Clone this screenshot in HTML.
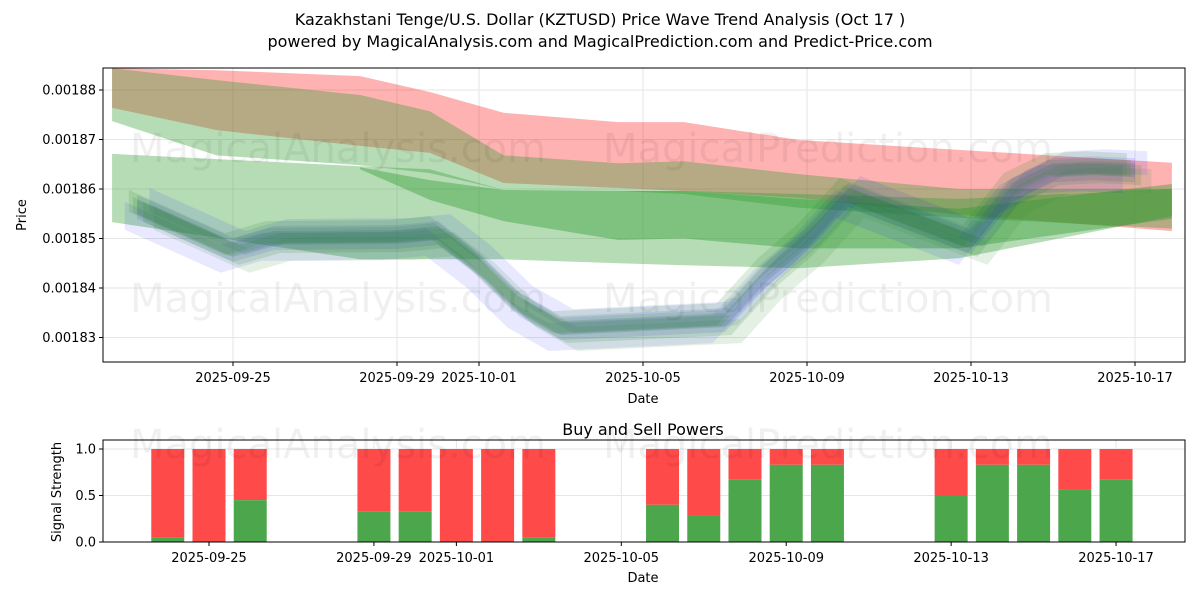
<!DOCTYPE html>
<html><head><meta charset="utf-8"><style>
body{margin:0;background:#fff;font-family:"Liberation Sans","DejaVu Sans",sans-serif;}
svg text{font-family:"DejaVu Sans","Liberation Sans",sans-serif;}
</style></head><body>
<svg id="c" width="1200" height="600" viewBox="0 0 1200 600" xmlns="http://www.w3.org/2000/svg">
<defs><clipPath id="tc"><rect x="103" y="68" width="1082" height="294"/></clipPath></defs>
<text x="600" y="25" text-anchor="middle" font-size="16">Kazakhstani Tenge/U.S. Dollar (KZTUSD) Price Wave Trend Analysis (Oct 17 )</text>
<text x="600" y="47" text-anchor="middle" font-size="16">powered by MagicalAnalysis.com and MagicalPrediction.com and Predict-Price.com</text>
<g id="topg"></g><g id="botg"></g>
</svg>
<script>
// ---- data ----
const dayLabels=["2025-09-25","2025-09-29","2025-10-01","2025-10-05","2025-10-09","2025-10-13","2025-10-17"];
const dayTicks=[3,7,9,13,17,21,25];
const priceTicks=[0.00183,0.00184,0.00185,0.00186,0.00187,0.00188];
const redDays=[0.05,2.6,6.1,7.8,9.6,12.4,14,16.8,20.7,25.9];
const redUpper=[0.0018844,0.0018840,0.0018828,0.0018796,0.0018754,0.0018735,0.0018735,0.0018699,0.0018679,0.0018653];
const redLower=[0.0018764,0.0018719,0.0018687,0.0018673,0.0018612,0.0018602,0.0018596,0.0018582,0.0018548,0.0018515];
const gaUpper=[0.0018844,0.0018820,0.0018790,0.0018757,0.0018668,0.0018652,0.0018656,0.0018630,0.0018600,0.0018600];
const gaLower=[0.0018737,0.0018668,0.0018648,0.0018632,0.0018598,0.0018596,0.0018590,0.0018562,0.0018542,0.0018520];
const gbDays=[0.05,6.1,7.8,9.6,12.4,14,16.8,20.7,25.9];
const gbUpper=[0.0018671,0.0018646,0.0018640,0.0018598,0.0018596,0.0018596,0.0018590,0.0018580,0.0018600];
const gbLower=[0.0018533,0.0018458,0.0018458,0.0018458,0.0018450,0.0018446,0.0018440,0.0018460,0.0018545];
const gcDays=[6.1,7.8,9.6,12.4,14,16.8,20.7,25.9];
const gcUpper=[0.0018644,0.0018618,0.0018598,0.0018596,0.0018596,0.0018580,0.0018560,0.0018610];
const gcLower=[0.0018640,0.0018578,0.0018535,0.0018497,0.0018500,0.0018480,0.0018480,0.0018540];
const waveDays=[0.66,3,4,7,8,9,10,11,14,15,16,17,18,21,22,23,24,25];
const waveVals=[0.0018564,0.0018477,0.0018501,0.0018503,0.0018511,0.0018447,0.0018366,0.0018319,0.0018331,0.0018335,0.0018426,0.0018497,0.0018588,0.0018493,0.0018598,0.0018638,0.0018642,0.0018638];
const barDays=[2,3,4,7,8,9,10,11,14,15,16,17,18,21,22,23,24,25];
const buyVals=[0.05,0,0.45,0.33,0.33,0,0,0.05,0.4,0.28,0.67,0.83,0.83,0.5,0.83,0.83,0.56,0.67];
const sigTicks=[0,0.5,1.0];
// ---- axes ----
const NS="http://www.w3.org/2000/svg";
const T={l:103,r:1185,t:68,b:362};
const B={l:103,r:1185,t:440,b:542};
const xT=d=>233+41*(d-3);
const yT=v=>90+(0.00188-v)/0.00001*49.5;
const xB=d=>209+41.23*(d-3);
const yB=v=>542-v*93;
function mk(tag,attrs,parent){const e=document.createElementNS(NS,tag);for(const k in attrs)e.setAttribute(k,attrs[k]);parent.appendChild(e);return e;}
const topG=document.getElementById('topg'),botG=document.getElementById('botg');
const svgRoot=document.getElementById('c');
dayTicks.forEach(d=>{const g=mk('line',{x1:xT(d),x2:xT(d),y1:T.t,y2:T.b,stroke:'#e6e6e6'},topG);

});
priceTicks.forEach(v=>{const g=mk('line',{x1:T.l,x2:T.r,y1:yT(v),y2:yT(v),stroke:'#e6e6e6'},topG);

});
[[130,162,'MagicalAnalysis.com'],[603,162,'MagicalPrediction.com'],[130,312,'MagicalAnalysis.com'],[603,312,'MagicalPrediction.com'],[130,458,'MagicalAnalysis.com'],[603,458,'MagicalPrediction.com']].forEach(w=>{const t=mk('text',{x:w[0],y:w[1],'font-size':40,fill:'#000','fill-opacity':0.06},svgRoot);t.textContent=w[2];

});
const plot=mk('g',{'clip-path':'url(#tc)'},topG);
function band(days,up,lo,color,op,name){let p=days.map((d,i)=>xT(d)+','+yT(up[i]));p=p.concat(days.map((d,i)=>xT(d)+','+yT(lo[i])).reverse());
const e=mk('polygon',{points:p.join(' '),fill:color,'fill-opacity':op},plot);

}
band(redDays,redUpper,redLower,'#ff0000',0.3,'red-band');
band(redDays,gaUpper,gaLower,'#2e9a2e',0.35,'green-band-upper');
band(gbDays,gbUpper,gbLower,'#2e9a2e',0.35,'green-band-lower');
band(gcDays,gcUpper,gcLower,'#2e9a2e',0.4,'green-band-mid');
const trails=[[0,0,12,'#0000ff',0.1],[0.3,0.0000014,12,'#0000ff',0.09],[-0.3,-0.0000018,14,'#0000ff',0.09],[0.15,-0.0000010,10,'#2e8b2e',0.16],[-0.2,0.0000012,11,'#2e8b2e',0.16],[0.4,-0.0000022,12,'#2e8b2e',0.13],[0,0,7,'#3a7070',0.2],[-0.1,0.0000004,8,'#2e8b2e',0.16]];
trails.forEach(tr=>{const[dx,dv,w,col,op]=tr;
let p=waveDays.map((d,i)=>xT(d+dx)+','+(yT(waveVals[i]+dv)-w));
p=p.concat(waveDays.map((d,i)=>xT(d+dx)+','+(yT(waveVals[i]+dv)+w)).reverse());
const e=mk('polygon',{points:p.join(' '),fill:col,'fill-opacity':op},plot);

});
const f1=mk('rect',{x:T.l,y:T.t,width:T.r-T.l,height:T.b-T.t,fill:'none',stroke:'#000','stroke-width':1},topG);


dayTicks.forEach((d,i)=>{mk('line',{x1:xT(d),x2:xT(d),y1:T.b,y2:T.b+4,stroke:'#000'},topG);
const t=mk('text',{x:xT(d),y:T.b+20,'text-anchor':'middle','font-size':13},topG);t.textContent=dayLabels[i];

});
priceTicks.forEach(v=>{mk('line',{x1:T.l-4,x2:T.l,y1:yT(v),y2:yT(v),stroke:'#000'},topG);
const t=mk('text',{x:T.l-7,y:yT(v)+4.5,'text-anchor':'end','font-size':13},topG);t.textContent=v.toFixed(5);

});
let t=mk('text',{x:643,y:403,'text-anchor':'middle','font-size':13},topG);t.textContent='Date';


t=mk('text',{x:26,y:215,'text-anchor':'middle','font-size':13,transform:'rotate(-90 26 215)'},topG);t.textContent='Price';


[0.5,1.0].forEach(v=>{const g=mk('line',{x1:B.l,x2:B.r,y1:yB(v),y2:yB(v),stroke:'#e6e6e6'},botG);

});
dayTicks.forEach(d=>{const g=mk('line',{x1:xB(d),x2:xB(d),y1:B.t,y2:B.b,stroke:'#e6e6e6'},botG);

});
barDays.forEach((d,i)=>{const w=33,x=xB(d)-w/2;
const r=mk('rect',{x:x,y:yB(1),width:w,height:yB(buyVals[i])-yB(1),fill:'#ff4a4a'},botG);


const g=mk('rect',{x:x,y:yB(buyVals[i]),width:w,height:yB(0)-yB(buyVals[i]),fill:'#4ca64c'},botG);

});
const f2=mk('rect',{x:B.l,y:B.t,width:B.r-B.l,height:B.b-B.t,fill:'none',stroke:'#000'},botG);


dayTicks.forEach((d,i)=>{mk('line',{x1:xB(d),x2:xB(d),y1:B.b,y2:B.b+4,stroke:'#000'},botG);
const t=mk('text',{x:xB(d),y:B.b+20,'text-anchor':'middle','font-size':13},botG);t.textContent=dayLabels[i];

});
sigTicks.forEach(v=>{mk('line',{x1:B.l-4,x2:B.l,y1:yB(v),y2:yB(v),stroke:'#000'},botG);
const t=mk('text',{x:B.l-7,y:yB(v)+4.5,'text-anchor':'end','font-size':13},botG);t.textContent=v.toFixed(1);

});
t=mk('text',{x:643,y:435,'text-anchor':'middle','font-size':16},botG);t.textContent='Buy and Sell Powers';


t=mk('text',{x:643,y:582,'text-anchor':'middle','font-size':13},botG);t.textContent='Date';


t=mk('text',{x:61,y:492,'text-anchor':'middle','font-size':13,transform:'rotate(-90 61 492)'},botG);t.textContent='Signal Strength';


</script>
</body></html>
